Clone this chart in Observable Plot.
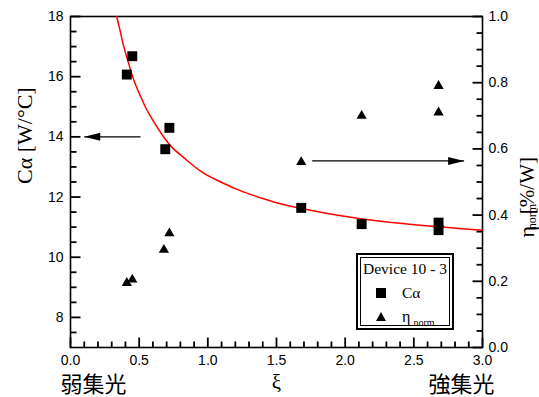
<!DOCTYPE html>
<html><head><meta charset="utf-8">
<script src="https://cdn.jsdelivr.net/npm/d3@7"></script>
<script src="https://cdn.jsdelivr.net/npm/@observablehq/plot@0.6"></script>
<style>
body{margin:0;background:#fff;}
#wrap{position:relative;width:539px;height:397px;overflow:hidden;background:#fff;}
#legend{position:absolute;left:356px;top:253px;width:94px;height:73px;border:2px solid #000;background:#fff;}
#legend .inner{position:absolute;left:2px;top:2px;right:2px;bottom:2px;border:1px solid #000;}
#legend .t{position:absolute;font-family:"Liberation Serif","Times New Roman",Times,"DejaVu Serif",serif;color:#000;white-space:nowrap;line-height:1;}
#legend svg{position:absolute;}
</style></head><body><div id="wrap"></div>
<script>
// Cα data (left axis)
const cXi  = [0.41, 0.45, 0.69, 0.72, 1.68, 2.12, 2.68, 2.68];
const cVal = [16.07, 16.68, 13.59, 14.30, 11.64, 11.10, 11.15, 10.90];
// η_norm data (right axis)
const eXi  = [0.41, 0.45, 0.68, 0.72, 1.68, 2.12, 2.68, 2.68];
const eVal = [0.195, 0.205, 0.295, 0.345, 0.56, 0.70, 0.79, 0.71];
// red fitted curve
const curveXi = [0.336, 0.36, 0.38, 0.40, 0.426, 0.46, 0.5, 0.55, 0.6, 0.681, 0.75, 0.827, 0.95, 1.07, 1.2, 1.314, 1.436, 1.55, 1.68, 1.85, 2.04, 2.2, 2.4, 2.676, 2.85, 3.0];
const curveC  = [18.0, 17.55, 17.15, 16.8, 16.4, 15.9, 15.45, 14.95, 14.55, 13.98, 13.6, 13.3, 12.85, 12.55, 12.28, 12.08, 11.9, 11.75, 11.62, 11.47, 11.33, 11.23, 11.13, 11.01, 10.95, 10.9];
// arrows (tail -> tip), left-axis units
const arrowX1 = [0.51, 1.76];
const arrowX2 = [0.10, 2.866];
const arrowY  = [14.0, 13.2];
const arrowRot = [180, 0];
// ticks
const xMajor = [0, 0.5, 1.0, 1.5, 2.0, 2.5, 3.0];
const xMinor = [0.1,0.2,0.3,0.4,0.6,0.7,0.8,0.9,1.1,1.2,1.3,1.4,1.6,1.7,1.8,1.9,2.1,2.2,2.3,2.4,2.6,2.7,2.8,2.9];
const yMajor = [8, 10, 12, 14, 16, 18];
const yMinor = [7.5,8.5,9,9.5,10.5,11,11.5,12.5,13,13.5,14.5,15,15.5,16.5,17,17.5];
const eMajor = [0, 0.2, 0.4, 0.6, 0.8, 1.0];
const eMinor = [0.05,0.1,0.15,0.25,0.3,0.35,0.45,0.5,0.55,0.65,0.7,0.75,0.85,0.9,0.95];

const W = 539, H = 397, ML = 70, MR = 57, MT = 16, MB = 50;
const PW = W - ML - MR, PH = H - MT - MB;
const XD = [0, 3], YD = [7, 18];
const MAJ = 10, MIN = 6;
const SERIF = "'Liberation Serif', 'Times New Roman', Times, 'DejaVu Serif', serif";

const etaToY = v => 7 + 11 * v;   // right axis 0..1 mapped onto left 7..18
const yToEta = y => (y - 7) / 11;
const xu = px => px * (XD[1] - XD[0]) / PW;
const yu = px => px * (YD[1] - YD[0]) / PH;

const cData = cXi.map((x, i) => ({x, y: cVal[i]}));
const eData = eXi.map((x, i) => ({x, y: etaToY(eVal[i])}));
const curve = curveXi.map((x, i) => ({x, y: curveC[i]}));
const arrows = arrowX1.map((x1, i) => ({x1, x2: arrowX2[i], y: arrowY[i], r: arrowRot[i]}));

const xt = [...xMinor.map(v => ({v, len: MIN})), ...xMajor.map(v => ({v, len: MAJ}))]
  .map(d => ({x1: d.v, x2: d.v, y1: YD[0], y2: YD[0] + yu(d.len)}));
const yt = [...yMinor.map(v => ({v, len: MIN})), ...yMajor.map(v => ({v, len: MAJ}))]
  .map(d => ({x1: XD[0], x2: XD[0] + xu(d.len), y1: d.v, y2: d.v}));
const et = [...eMinor.map(v => ({v, len: MIN})), ...eMajor.map(v => ({v, len: MAJ}))]
  .map(d => ({x1: XD[1] - xu(d.len), x2: XD[1], y1: etaToY(d.v), y2: etaToY(d.v)}));
const tickLines = xt.concat(yt, et);

const arrowHead = {draw(ctx) { ctx.moveTo(0, 0); ctx.lineTo(-16, -4); ctx.lineTo(-16, 4); ctx.closePath(); }};

const chart = Plot.plot({
  width: W, height: H,
  marginLeft: ML, marginRight: MR, marginTop: MT, marginBottom: MB,
  style: {fontFamily: "'Liberation Sans', Arial, sans-serif", fontSize: "14px", background: "white", color: "black", overflow: "visible"},
  x: {domain: XD, label: null},
  y: {domain: YD, label: null},
  marks: [
    Plot.frame({stroke: "black", strokeWidth: 1.6, fill: "none"}),
    Plot.axisX({ticks: xMajor, tickSize: 0, tickPadding: 8, tickFormat: d3.format(".1f"), stroke: "none", fontSize: 14, label: null}),
    Plot.axisY({ticks: yMajor, tickSize: 0, tickPadding: 7, stroke: "none", fontSize: 14, label: null}),
    Plot.axisY({anchor: "right", ticks: eMajor.map(etaToY), tickSize: 0, tickPadding: 6, stroke: "none", fontSize: 14, tickFormat: d => yToEta(d).toFixed(1), label: null}),
    Plot.link(tickLines, {x1: "x1", x2: "x2", y1: "y1", y2: "y2", stroke: "black", strokeWidth: 1.8}),
    Plot.line(curve, {x: "x", y: "y", stroke: "#ff0000", strokeWidth: 1.5, curve: "natural"}),
    Plot.link(arrows, {x1: "x1", x2: "x2", y1: "y", y2: "y", stroke: "black", strokeWidth: 1.3}),
    Plot.dot(arrows, {x: "x2", y: "y", symbol: arrowHead, rotate: "r", fill: "black", stroke: "none"}),
    Plot.dot(cData, {x: "x", y: "y", symbol: "square", r: 5.6, fill: "black", stroke: "none"}),
    Plot.dot(eData, {x: "x", y: "y", symbol: "triangle", r: 3.8, fill: "black", stroke: "none"}),
    Plot.text(["Cα [W/°C]"], {text: d => d, frameAnchor: "left", dx: -46, dy: 2, rotate: -90, fontSize: 22, fontFamily: SERIF}),
    Plot.text(["η"], {text: d => d, frameAnchor: "right", dx: 44, dy: 44, rotate: -90, fontSize: 22, fontFamily: SERIF}),
    Plot.text(["norm"], {text: d => d, frameAnchor: "right", dx: 50, dy: 22, rotate: -90, fontSize: 12, fontFamily: SERIF}),
    Plot.text(["[%/W]"], {text: d => d, frameAnchor: "right", dx: 45, dy: -25, rotate: -90, fontSize: 21, fontFamily: SERIF}),
    Plot.text(["弱集光"], {text: d => d, frameAnchor: "bottom-left", dx: -10, dy: 44, textAnchor: "start", fontSize: 22, fontFamily: "'Noto Sans CJK JP', sans-serif"}),
    Plot.text(["ξ"], {text: d => d, frameAnchor: "bottom", dy: 41, fontSize: 21, fontFamily: SERIF}),
    Plot.text(["強集光"], {text: d => d, frameAnchor: "bottom-right", dx: 12, dy: 44, textAnchor: "end", fontSize: 22, fontFamily: "'Noto Sans CJK JP', sans-serif"})
  ]
});
const wrap = document.getElementById("wrap");
wrap.appendChild(chart);

const legend = document.createElement("div");
legend.id = "legend";
legend.innerHTML = `<div class="inner"></div>
<div class="t" style="left:5px;top:6px;font-size:15.5px;">Device 10 - 3</div>
<svg style="left:17px;top:32px" width="12" height="12"><rect x="1" y="1" width="10" height="10" fill="#000"/></svg>
<div class="t" style="left:44px;top:30px;font-size:15.5px;">Cα</div>
<svg style="left:17px;top:56px" width="12" height="12"><path d="M6,1 L11,10 L1,10 Z" fill="#000"/></svg>
<div class="t" style="left:44px;top:54px;font-size:16px;">η<span style="font-size:10px;margin-left:3px;position:relative;top:4px;">norm</span></div>`;
wrap.appendChild(legend);
</script>
</body></html>
